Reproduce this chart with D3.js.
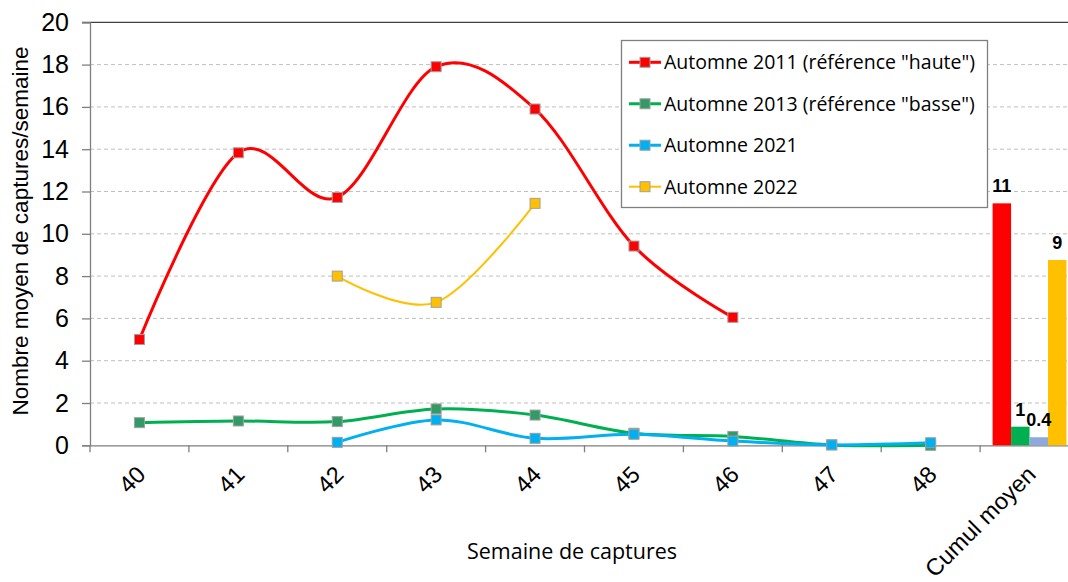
<!DOCTYPE html>
<html>
<head>
<meta charset="utf-8">
<script src="https://cdn.jsdelivr.net/npm/d3@7"></script>
<style>
  body { margin: 0; background: #fff; }
  svg { display: block; }
</style>
</head>
<body>
<svg id="chart" width="1068" height="582"></svg>
<script>
// Categories and values
const weeks = ["40", "41", "42", "43", "44", "45", "46", "47", "48", "Cumul moyen"];
const seriesNames = [
    'Automne 2011 (référence "haute")',
    'Automne 2013 (référence "basse")',
    "Automne 2021",
    "Automne 2022"
];
const v2011 = [5.0, 13.83, 11.72, 17.9, 15.9, 9.42, 6.05, null, null];
const v2013 = [1.07, 1.15, 1.12, 1.72, 1.43, 0.57, 0.42, 0.02, 0.0];
const v2021 = [null, null, 0.14, 1.2, 0.33, 0.52, 0.2, 0.02, 0.12];
const v2022 = [null, null, 8.0, 6.76, 11.44, null, null, null, null];
const cumul = [11.44, 0.88, 0.38, 8.76];
const yTicks = [0, 2, 4, 6, 8, 10, 12, 14, 16, 18, 20];

const lineColors = ["#ff0000", "#00b050", "#00b0f0", "#ffc000"];
const markerColors = ["#ff0000", "#339966", "#00b0f0", "#ffc000"];
const barColors = ["#ff0000", "#00b050", "#8ea9db", "#ffc000"];
const lineWidths = [3, 3, 3, 2];

const svg = d3.select("#chart");

const x = d3.scaleBand().domain(weeks).range([90, 90 + 98.9 * 10]);
const y = d3.scaleLinear().domain([0, 20]).range([445.3, 22.3]);

// grid lines
svg.append("g")
    .selectAll("line")
    .data(yTicks.filter(t => t > 0 && t < 20))
    .enter().append("line")
    .attr("x1", 90).attr("x2", 1068)
    .attr("y1", d => y(d)).attr("y2", d => y(d))
    .attr("stroke", "#bfbfbf")
    .attr("stroke-dasharray", "4,3");

// top line at 20
svg.append("line")
    .attr("x1", 82).attr("x2", 1068)
    .attr("y1", y(20)).attr("y2", y(20))
    .attr("stroke", "#404040").attr("stroke-width", 1.3);

// y axis
const yAxis = svg.append("g")
    .attr("transform", "translate(90,0)")
    .call(d3.axisLeft(y).tickValues(yTicks).tickSize(8).tickPadding(13));
yAxis.select(".domain").attr("stroke", "#7f7f7f").attr("stroke-width", 1.3);
yAxis.selectAll(".tick line").attr("stroke", "#7f7f7f").attr("stroke-width", 1.3);
yAxis.selectAll(".tick text")
    .attr("font-family", "Liberation Sans, Arial, sans-serif")
    .attr("font-size", 25)
    .attr("fill", "#000");

// x axis
const xAxis = svg.append("g")
    .attr("transform", `translate(0,${y(0)})`)
    .call(d3.axisBottom(x).tickSize(0).tickFormat(""));
xAxis.select(".domain").attr("stroke", "#7f7f7f").attr("stroke-width", 1.3);

// tick marks between categories
svg.append("g")
    .selectAll("line")
    .data(weeks)
    .enter().append("line")
    .attr("x1", d => x(d)).attr("x2", d => x(d))
    .attr("y1", y(0)).attr("y2", y(0) + 7)
    .attr("stroke", "#7f7f7f").attr("stroke-width", 1.3);

// rotated x labels
svg.append("g")
    .selectAll("text")
    .data(weeks)
    .enter().append("text")
    .attr("transform", d => `translate(${x(d) + x.bandwidth() / 2 - 4},${y(0) + 19}) rotate(-45)`)
    .attr("text-anchor", "end")
    .attr("dy", "0.7em")
    .attr("font-family", "Liberation Sans, Arial, sans-serif")
    .attr("font-size", 23.5)
    .text(d => d);

// axis titles
svg.append("text")
    .attr("x", 572).attr("y", 559)
    .attr("text-anchor", "middle")
    .attr("font-family", "Open Sans, sans-serif")
    .attr("font-size", 21.5)
    .text("Semaine de captures");

svg.append("text")
    .attr("transform", "translate(28,231) rotate(-90)")
    .attr("text-anchor", "middle")
    .attr("font-family", "Liberation Sans, Arial, sans-serif")
    .attr("font-size", 22.5)
    .text("Nombre moyen de captures/semaine");

// lines
const allSeries = [v2011, v2013, v2021, v2022];
const line = d3.line()
    .defined(d => d.v !== null)
    .x(d => x(d.w) + x.bandwidth() / 2)
    .y(d => y(d.v))
    .curve(d3.curveCatmullRom.alpha(0));

allSeries.forEach((vals, i) => {
    const pts = vals.map((v, j) => ({ w: weeks[j], v: v }));
    svg.append("path")
        .datum(pts)
        .attr("fill", "none")
        .attr("stroke", lineColors[i])
        .attr("stroke-width", lineWidths[i])
        .attr("d", line);
    svg.append("g")
        .selectAll("rect")
        .data(pts.filter(d => d.v !== null))
        .enter().append("rect")
        .attr("x", d => x(d.w) + x.bandwidth() / 2 - 5)
        .attr("y", d => y(d.v) - 5)
        .attr("width", 10).attr("height", 10)
        .attr("fill", markerColors[i])
        .attr("stroke", "#a0a0a0")
        .attr("stroke-width", 1);
});

// cumul bars
const xb = d3.scaleBand()
    .domain(d3.range(cumul.length))
    .range([x("Cumul moyen") + 12.5, x("Cumul moyen") + x.bandwidth() - 12.5]);

svg.append("g")
    .selectAll("rect")
    .data(cumul)
    .enter().append("rect")
    .attr("x", (d, i) => xb(i))
    .attr("y", d => y(d))
    .attr("width", xb.bandwidth())
    .attr("height", d => y(0) - y(d))
    .attr("fill", (d, i) => barColors[i]);

svg.append("g")
    .selectAll("text")
    .data(cumul)
    .enter().append("text")
    .attr("x", (d, i) => xb(i) + xb.bandwidth() / 2)
    .attr("y", d => y(d) - 11)
    .attr("text-anchor", "middle")
    .attr("font-family", "Liberation Sans, Arial, sans-serif")
    .attr("font-weight", "bold")
    .attr("font-size", 18)
    .text(d => d >= 0.5 ? Math.round(d) : d.toFixed(1));

// legend
const legend = svg.append("g");
legend.append("rect")
    .attr("x", 621.5).attr("y", 40.5)
    .attr("width", 366).attr("height", 167)
    .attr("fill", "#fff")
    .attr("stroke", "#7f7f7f").attr("stroke-width", 1.3);

const legendY = d3.scalePoint().domain(seriesNames).range([62.3, 186.7]);
seriesNames.forEach((name, i) => {
    const ly = legendY(name);
    legend.append("line")
        .attr("x1", 629).attr("x2", 661)
        .attr("y1", ly).attr("y2", ly)
        .attr("stroke", lineColors[i]).attr("stroke-width", lineWidths[i]);
    legend.append("rect")
        .attr("x", 640).attr("y", ly - 5)
        .attr("width", 10).attr("height", 10)
        .attr("fill", markerColors[i])
        .attr("stroke", "#a0a0a0");
    legend.append("text")
        .attr("x", 664).attr("y", ly)
        .attr("dy", "0.35em")
        .attr("font-family", "Open Sans, sans-serif")
        .attr("font-size", 19.5)
        .text(name);
});
</script>
</body>
</html>
